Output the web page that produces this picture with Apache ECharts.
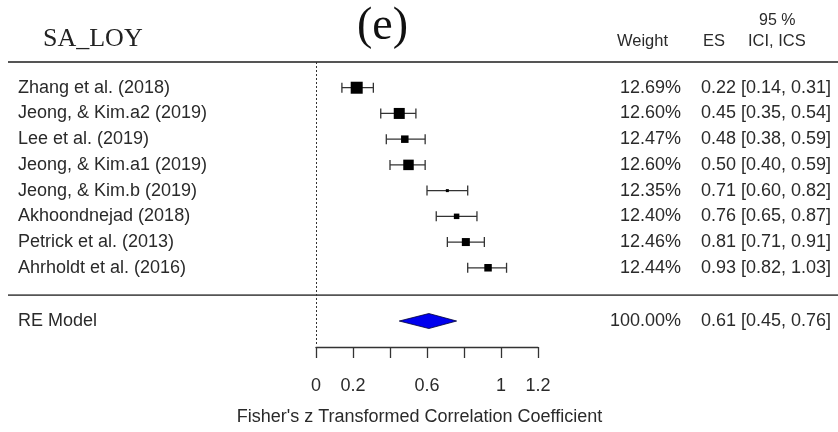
<!DOCTYPE html>
<html>
<head>
    <meta charset="utf-8">
    <title>SA_LOY forest plot</title>
    <script src="https://cdn.jsdelivr.net/npm/echarts@6/dist/echarts.min.js"></script>
    <style>
        html, body { margin: 0; padding: 0; background: #fff; }
    </style>
</head>
<body>
    <div id="main" style="width: 838px;height:432px;"></div>
    <script type="text/javascript">
        // study rows, top to bottom
        var studies = ['Zhang et al. (2018)', 'Jeong, & Kim.a2 (2019)', 'Lee et al. (2019)', 'Jeong, & Kim.a1 (2019)',
            'Jeong, & Kim.b (2019)', 'Akhoondnejad (2018)', 'Petrick et al. (2013)', 'Ahrholdt et al. (2016)'];
        var weights = [12.69, 12.60, 12.47, 12.60, 12.35, 12.40, 12.46, 12.44];
        var effects = [0.22, 0.45, 0.48, 0.50, 0.71, 0.76, 0.81, 0.93];
        var ciLow = [0.14, 0.35, 0.38, 0.40, 0.60, 0.65, 0.71, 0.82];
        var ciHigh = [0.31, 0.54, 0.59, 0.59, 0.82, 0.87, 0.91, 1.03];

        // pooled random-effects estimate
        var reLabel = 'RE Model';
        var reWeight = 100;
        var reEffect = 0.61;
        var reLow = 0.45;
        var reHigh = 0.76;

        var xTicks = [0, 0.2, 0.4, 0.6, 0.8, 1, 1.2];
        var xTickLabels = ['0', '0.2', '', '0.6', '', '1', '1.2'];

        // square size in px for each study (style only)
        var boxSizes = [12, 11, 7.5, 10.5, 3, 5.5, 8, 7.5];

        var FONT = '18px "Liberation Sans", Arial, sans-serif';
        var TXT = '#2a2a2a';

        function ciText(e, lo, hi) {
            return e.toFixed(2) + ' [' + lo.toFixed(2) + ', ' + hi.toFixed(2) + ']';
        }

        function textEl(str, x, y, align) {
            return {
                type: 'text',
                style: { text: str, x: x, y: y, textAlign: align, textVerticalAlign: 'middle', font: FONT, fill: TXT }
            };
        }

        var myChart = echarts.init(document.getElementById('main'), null, { renderer: 'canvas' });

        var option = {
            animation: false,
            backgroundColor: '#fff',
            grid: { left: 316, right: 300, top: 62, bottom: 85, outerBoundsMode: 'none', containLabel: false },
            xAxis: {
                type: 'value',
                min: 0, max: 1.2, interval: 0.2,
                position: 'bottom',
                axisLine: { show: true, onZero: false, lineStyle: { color: '#333', width: 1.3 } },
                axisTick: { show: true, inside: false, length: 11, lineStyle: { color: '#333', width: 1.3 } },
                axisLabel: {
                    margin: 30,
                    color: TXT,
                    fontSize: 18,
                    fontFamily: '"Liberation Sans", Arial, sans-serif',
                    formatter: function (v) {
                        var i = xTicks.findIndex(function (t) { return Math.abs(t - v) < 1e-6; });
                        return i >= 0 ? xTickLabels[i] : '';
                    }
                },
                splitLine: { show: false },
                name: "Fisher's z Transformed Correlation Coefficient",
                nameLocation: 'middle',
                nameGap: 61,
                nameTextStyle: { color: TXT, fontSize: 18, fontFamily: '"Liberation Sans", Arial, sans-serif', padding: [0, 15, 0, 0] }
            },
            yAxis: {
                type: 'value', min: 0, max: 11.08, inverse: true, show: false
            },
            graphic: [
                { type: 'text', left: 43, top: 26, style: { text: 'SA_LOY', font: '26px "Liberation Serif", "Times New Roman", serif', fill: '#222' } },
                { type: 'text', left: 357, top: 4, style: { text: '(e)', font: '46px "Liberation Serif", "Times New Roman", serif', fill: '#111' } },
                { type: 'text', left: 617, top: 33, style: { text: 'Weight', font: '16.5px "Liberation Sans", Arial, sans-serif', fill: TXT } },
                { type: 'text', left: 703, top: 33, style: { text: 'ES', font: '16.5px "Liberation Sans", Arial, sans-serif', fill: TXT } },
                { type: 'text', left: 759, top: 13, style: { text: '95 %', font: '16px "Liberation Sans", Arial, sans-serif', fill: TXT } },
                { type: 'text', left: 748, top: 33, style: { text: 'ICI, ICS', font: '16.5px "Liberation Sans", Arial, sans-serif', fill: TXT } }
            ],
            series: [
                {
                    // header and pooled separators
                    type: 'custom',
                    clip: false,
                    silent: true,
                    data: [[0, 0], [0, 9.06]],
                    renderItem: function (params, api) {
                        var y = api.coord([0, api.value(1)])[1];
                        return {
                            type: 'line',
                            shape: { x1: 8, y1: y, x2: 838, y2: y },
                            style: { stroke: '#555', lineWidth: 1.8 }
                        };
                    }
                },
                {
                    // zero reference line
                    type: 'line',
                    data: [],
                    markLine: {
                        silent: true,
                        symbol: 'none',
                        label: { show: false },
                        lineStyle: { color: '#333', type: [2, 2], width: 1 },
                        data: [[{ coord: [0, 0] }, { coord: [0, 11.0] }]]
                    }
                },
                {
                    // individual studies
                    type: 'custom',
                    clip: false,
                    silent: true,
                    encode: { x: [1, 2, 3], y: 0 },
                    data: studies.map(function (s, i) {
                        return [i + 1, effects[i], ciLow[i], ciHigh[i], i];
                    }),
                    renderItem: function (params, api) {
                        var row = api.value(0);
                        var i = api.value(4);
                        var pe = api.coord([api.value(1), row]);
                        var pl = api.coord([api.value(2), row]);
                        var ph = api.coord([api.value(3), row]);
                        var y = pe[1];
                        var s = boxSizes[i];
                        var ln = { stroke: '#333', lineWidth: 1.3 };
                        return {
                            type: 'group',
                            children: [
                                { type: 'line', shape: { x1: pl[0], y1: y, x2: ph[0], y2: y }, style: ln },
                                { type: 'line', shape: { x1: pl[0], y1: y - 5, x2: pl[0], y2: y + 5 }, style: ln },
                                { type: 'line', shape: { x1: ph[0], y1: y - 5, x2: ph[0], y2: y + 5 }, style: ln },
                                { type: 'rect', shape: { x: pe[0] - s / 2, y: y - s / 2, width: s, height: s }, style: { fill: '#000' } },
                                textEl(studies[i], 18, y, 'left'),
                                textEl(weights[i].toFixed(2) + '%', 681, y, 'right'),
                                textEl(ciText(effects[i], ciLow[i], ciHigh[i]), 831, y, 'right')
                            ]
                        };
                    }
                },
                {
                    // pooled diamond
                    type: 'custom',
                    clip: false,
                    silent: true,
                    encode: { x: [1, 2, 3], y: 0 },
                    data: [[10.07, reEffect, reLow, reHigh]],
                    renderItem: function (params, api) {
                        var row = api.value(0);
                        var pe = api.coord([api.value(1), row]);
                        var pl = api.coord([api.value(2), row]);
                        var ph = api.coord([api.value(3), row]);
                        var y = pe[1];
                        return {
                            type: 'group',
                            children: [
                                {
                                    type: 'polygon',
                                    shape: { points: [[pl[0], y], [pe[0], y - 7.5], [ph[0], y], [pe[0], y + 7.5]] },
                                    style: { fill: '#0000ee', stroke: '#000033', lineWidth: 0.8 }
                                },
                                textEl(reLabel, 18, y, 'left'),
                                textEl(reWeight.toFixed(2) + '%', 681, y, 'right'),
                                textEl(ciText(reEffect, reLow, reHigh), 831, y, 'right')
                            ]
                        };
                    }
                }
            ]
        };

        myChart.setOption(option);
    </script>
</body>
</html>
